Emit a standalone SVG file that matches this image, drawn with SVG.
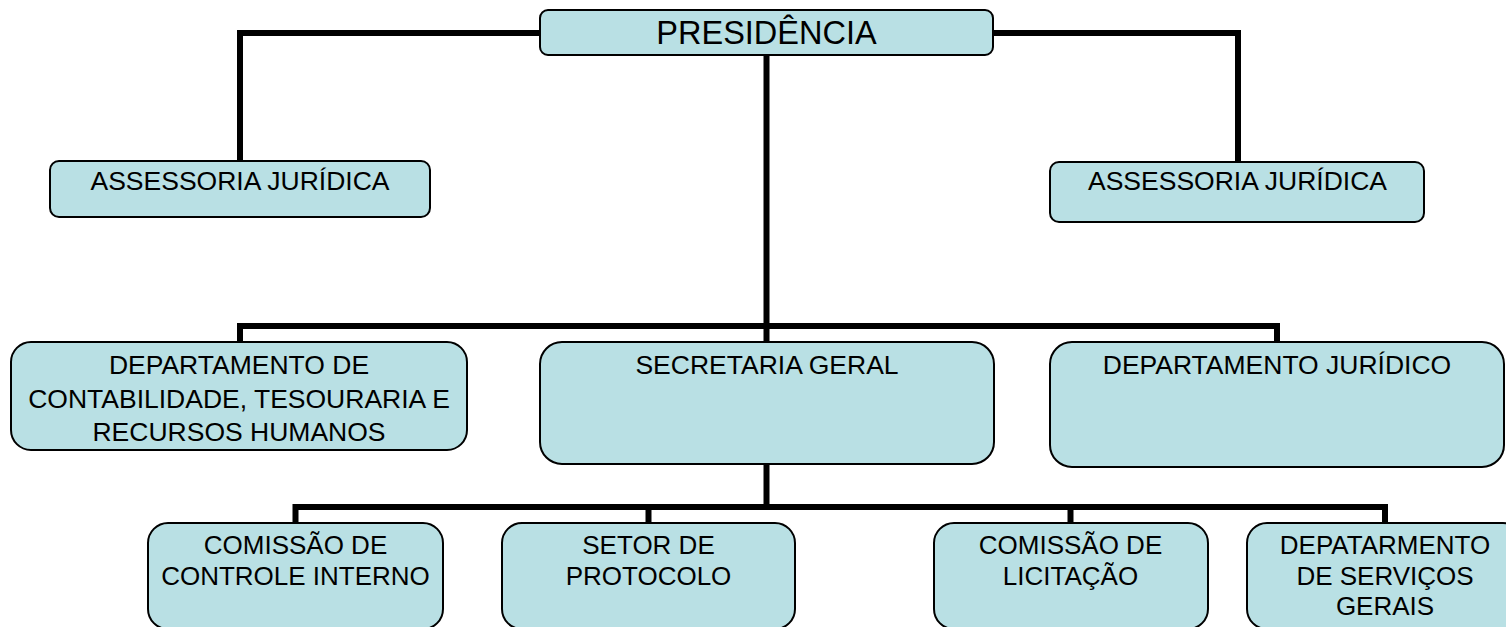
<svg xmlns="http://www.w3.org/2000/svg" width="1506" height="627" viewBox="0 0 1506 627">
<style>
.box{fill:#B9E0E4;stroke:#000;stroke-width:2}
.t{font-family:"Liberation Sans",Arial,sans-serif;font-size:26.5px;fill:#000;text-anchor:middle}
.t3{font-family:"Liberation Sans",Arial,sans-serif;font-size:26px;fill:#000;text-anchor:middle}
.big{font-size:32.5px}
.c{fill:none;stroke:#000;stroke-width:6;stroke-linecap:butt;stroke-linejoin:miter}
</style>
<rect width="1506" height="627" fill="#fff"/>
<g id="connectors">
<path class="c" d="M540,33 H240 V161"/>
<path class="c" d="M993,33 H1238 V161"/>
<path class="c" d="M766.5,55 V342"/>
<path class="c" d="M240,342 V326 H1277 V342"/>
<path class="c" d="M766.5,464 V507"/>
<path class="c" d="M295.5,523 V507 H1385 V523"/>
<path class="c" d="M648.5,507 V523"/>
<path class="c" d="M1070.5,507 V523"/>
</g>
<g id="presidencia">
<rect class="box" x="540" y="10" width="453" height="45" rx="8"/>
<text class="t big" x="766.5" y="43.5">PRESIDÊNCIA</text>
</g>
<g id="assessoria-esq">
<rect class="box" x="50" y="161" width="380" height="56" rx="9"/>
<text class="t" x="240" y="189.5">ASSESSORIA JURÍDICA</text>
</g>
<g id="assessoria-dir">
<rect class="box" x="1050" y="162" width="374" height="60" rx="9"/>
<text class="t" x="1237.5" y="190">ASSESSORIA JURÍDICA</text>
</g>
<g id="dep-contabilidade">
<rect class="box" x="11" y="342" width="456" height="108" rx="20"/>
<text class="t" x="239" y="374">DEPARTAMENTO DE</text>
<text class="t" x="239" y="408">CONTABILIDADE, TESOURARIA E</text>
<text class="t" x="239" y="441">RECURSOS HUMANOS</text>
</g>
<g id="secretaria">
<rect class="box" x="540" y="342" width="454" height="122" rx="22"/>
<text class="t" x="767" y="374">SECRETARIA GERAL</text>
</g>
<g id="dep-juridico">
<rect class="box" x="1050" y="342" width="454" height="125" rx="22"/>
<text class="t" x="1277" y="374">DEPARTAMENTO JURÍDICO</text>
</g>
<g id="comissao-controle">
<rect class="box" x="148" y="523" width="295" height="106" rx="20"/>
<text class="t3" x="295.5" y="554">COMISSÃO DE</text>
<text class="t3" x="295.5" y="585">CONTROLE INTERNO</text>
</g>
<g id="setor-protocolo">
<rect class="box" x="502" y="523" width="293" height="106" rx="20"/>
<text class="t3" x="648.5" y="554">SETOR DE</text>
<text class="t3" x="648.5" y="585">PROTOCOLO</text>
</g>
<g id="comissao-licitacao">
<rect class="box" x="934" y="523" width="274" height="106" rx="20"/>
<text class="t3" x="1070.5" y="554">COMISSÃO DE</text>
<text class="t3" x="1070.5" y="585">LICITAÇÃO</text>
</g>
<g id="dep-servicos">
<rect class="box" x="1247" y="523" width="276" height="106" rx="20"/>
<text class="t3" x="1385" y="554">DEPATARMENTO</text>
<text class="t3" x="1385" y="584.5">DE SERVIÇOS</text>
<text class="t3" x="1385" y="615">GERAIS</text>
</g>
</svg>
